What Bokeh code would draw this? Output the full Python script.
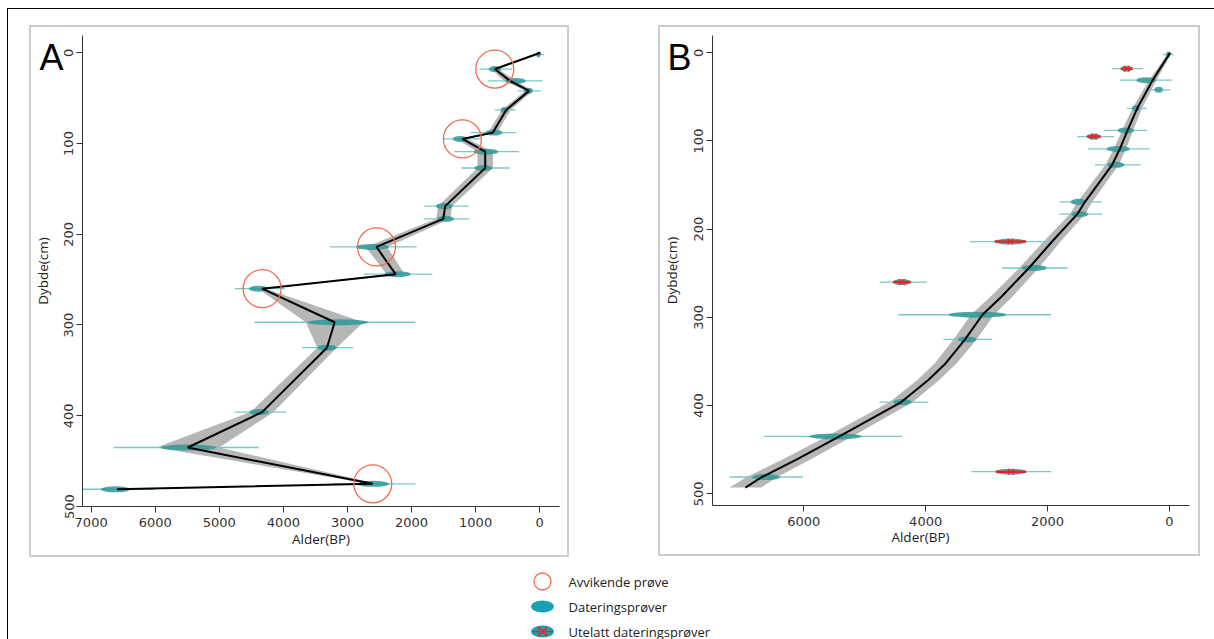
from bokeh.plotting import figure
from bokeh.models import Range1d, FixedTicker, LinearAxis, CustomJSTickFormatter
from bokeh.layouts import column, row
from bokeh.embed import file_html
from bokeh.resources import INLINE
from bokeh.core.properties import value
import json

# ---------------- data ----------------
sample_depth = [2, 18, 31, 42, 63, 88, 95, 109, 127, 169, 183, 214, 244, 260, 297, 325, 396, 435, 475, 481]
sample_age = [20, 700, 380, 175, 550, 715, 1240, 840, 880, 1490, 1470, 2610, 2220, 4390, 3150, 3320, 4380, 5480, 2600, 6620]
sample_old = [110, 940, 810, 345, 700, 1075, 1510, 1335, 1220, 1800, 1810, 3270, 2745, 4755, 4450, 3710, 4760, 6650, 3250, 7220]
sample_young = [-70, 430, -45, -15, 375, 370, 910, 325, 470, 1110, 1100, 1920, 1675, 3980, 1940, 2910, 3955, 4385, 1940, 6015]
sample_outlier = [False, True, False, False, False, False, True, False, False, False, False, True, False, True, False, False, False, False, True, False]

modelA_depth = [0, 18, 31, 42, 63, 88, 95, 109, 127, 169, 183, 214, 244, 260, 297, 325, 396, 435, 475, 481]
modelA_age = [-10, 701, 463, 166, 523, 731, 1207, 850, 850, 1475, 1505, 2547, 2249, 4332, 3200, 3320, 4332, 5493, 2606, 6594]
modelA_spread = [20, 60, 90, 60, 70, 70, 90, 120, 120, 110, 110, 170, 140, 60, 450, 150, 180, 490, 60, 30]

modelB_depth = [0, 31, 63, 88, 109, 127, 169, 183, 214, 244, 276, 297, 325, 352, 371, 396, 435, 461, 481, 493]
modelB_age = [-13, 273, 527, 686, 812, 939, 1384, 1511, 1924, 2305, 2749, 3067, 3353, 3670, 3956, 4400, 5416, 6114, 6687, 6959]
modelB_spread = [30, 60, 80, 90, 100, 110, 120, 125, 140, 160, 180, 190, 190, 180, 180, 190, 210, 230, 250, 260]

age_ticks_A = [7000, 6000, 5000, 4000, 3000, 2000, 1000, 0]
age_ticks_B = [6000, 4000, 2000, 0]
depth_ticks = [0, 100, 200, 300, 400, 500]

x_title = "Alder(BP)"
y_title = "Dybde(cm)"
legend_labels = ["Avvikende prøve", "Dateringsprøver", "Utelatt dateringsprøver"]

# ---------------- styles ----------------
TEAL = "#2f9896"
TEAL_BAR = "#7cc7c7"
BAND = "#a9a9a9"
CORAL = "#f26c50"
RED = "#e8262a"
AXIS = "#333333"


def const_formatter(txt):
    return CustomJSTickFormatter(code="return %s;" % json.dumps(txt))


def make_panel(width, height, xr, yr, borders, xticks, letter, letter_depth,
               letter_standoff, title_label_standoff, margin):
    left, right, top, bottom = borders
    p = figure(width=width, height=height, x_range=Range1d(*xr), y_range=Range1d(*yr),
               min_border_left=left, min_border_right=right, min_border_top=top, min_border_bottom=bottom,
               toolbar_location=None, output_backend="svg", title=None,
               styles={"outline": "2px solid #cccccc"}, margin=margin)
    p.xgrid.visible = False
    p.ygrid.visible = False
    p.outline_line_color = None
    for ax in (p.xaxis[0], p.yaxis[0]):
        ax.axis_line_color = AXIS
        ax.axis_line_width = 1
        ax.major_tick_line_color = AXIS
        ax.major_tick_out = 6
        ax.major_tick_in = 0
        ax.minor_tick_line_color = None
        ax.major_label_text_font = "DejaVu Sans"
        ax.major_label_text_font_size = "13px"
        ax.major_label_text_color = AXIS
        ax.axis_label_text_font = "Open Sans"
        ax.axis_label_text_font_size = "13.5px"
        ax.axis_label_text_font_style = "normal"
        ax.axis_label_text_color = "#222222"
    p.xaxis[0].ticker = FixedTicker(ticks=xticks)
    p.yaxis[0].ticker = FixedTicker(ticks=depth_ticks)
    p.yaxis[0].major_label_orientation = "vertical"
    p.yaxis[0].major_label_standoff = 3
    p.xaxis[0].major_label_standoff = 5
    p.xaxis[0].axis_label_standoff = 0

    # outer left "axis": carries the panel letter (as its single tick label) and the depth title
    p.extra_y_ranges = {"lab": Range1d(*yr)}
    lab = LinearAxis(y_range_name="lab", ticker=FixedTicker(ticks=[letter_depth]), formatter=const_formatter(letter),
                     axis_line_color=None, major_tick_line_color=None, minor_tick_line_color=None,
                     major_tick_out=0, major_tick_in=0, major_label_standoff=letter_standoff,
                     major_label_text_font="Liberation Sans", major_label_text_font_size="36px",
                     major_label_text_line_height=1.0, major_label_text_color="black",
                     axis_label=y_title, axis_label_standoff=title_label_standoff,
                     axis_label_text_font="Open Sans", axis_label_text_font_size="13.5px",
                     axis_label_text_font_style="normal", axis_label_text_color="#222222")
    p.add_layout(lab, "left")
    return p


def draw_samples(p):
    widths = [0.38 * (o - y) for o, y in zip(sample_old, sample_young)]
    p.segment(x0=sample_old, y0=sample_depth, x1=sample_young, y1=sample_depth,
              line_color=TEAL_BAR, line_width=1.3)
    p.ellipse(x=sample_age, y=sample_depth, width=widths, height=6, height_units="screen",
              fill_color=TEAL, fill_alpha=0.85, line_color=None)
    return widths


# ---------------- panel A ----------------
pA = make_panel(536, 528, (7135, -309), (500, -19), (49, 8, 8, 49), age_ticks_A, "A", -16, -2, -16,
                (18, 0, 0, 23))
pA.xaxis[0].axis_label = x_title
pA.harea(y=modelA_depth, x1=[a - s for a, s in zip(modelA_age, modelA_spread)],
         x2=[a + s for a, s in zip(modelA_age, modelA_spread)], fill_color=BAND, fill_alpha=0.85)
draw_samples(pA)
pA.line(modelA_age, modelA_depth, line_color="black", line_width=2)
out_idx = [modelA_depth.index(d) for d, o in zip(sample_depth, sample_outlier) if o]
pA.scatter(x=[modelA_age[i] for i in out_idx], y=[modelA_depth[i] for i in out_idx], marker="circle",
           size=38, fill_color=None, line_color=CORAL, line_width=1.3)

# ---------------- panel B ----------------
xrB = (7499, -331)
pB = make_panel(538, 527, xrB, (513.3, -19.6), (47, 9, 8, 48), age_ticks_B, "B", -16, 0, -17,
                (18, 0, 0, 93))
pB.harea(y=modelB_depth, x1=[a - s for a, s in zip(modelB_age, modelB_spread)],
         x2=[a + s for a, s in zip(modelB_age, modelB_spread)], fill_color=BAND, fill_alpha=0.85)
wB = draw_samples(pB)
pB.line(modelB_age, modelB_depth, line_color="black", line_width=2)
oa = [a for a, o in zip(sample_age, sample_outlier) if o]
od = [d for d, o in zip(sample_depth, sample_outlier) if o]
ow = [w for w, o in zip(wB, sample_outlier) if o]
pB.segment(x0=[a - w / 2 for a, w in zip(oa, ow)], y0=od, x1=[a + w / 2 for a, w in zip(oa, ow)], y1=od,
           line_color=RED, line_width=2.5)
pB.scatter(x=oa, y=od, marker="x", size=8, line_color=RED, line_width=1.3)
# x title of panel B sits left of the frame centre: carried by an extra bottom axis
pB.extra_x_ranges = {"lab": Range1d(*xrB)}
pB.add_layout(LinearAxis(x_range_name="lab", ticker=FixedTicker(ticks=[4085]), formatter=const_formatter(x_title),
                         axis_line_color=None, major_tick_line_color=None, minor_tick_line_color=None,
                         major_tick_out=0, major_tick_in=0, major_label_standoff=-1,
                         major_label_text_font="Open Sans", major_label_text_font_size="13.5px",
                         major_label_text_color="#222222"), "below")

# ---------------- legend ----------------
pL = figure(width=1206, height=80, x_range=Range1d(0, 1206), y_range=Range1d(80, 0),
            min_border=0, toolbar_location=None, output_backend="svg", title=None,
            x_axis_location=None, y_axis_location=None, margin=(4, 0, 0, 0))
pL.xgrid.visible = False
pL.ygrid.visible = False
pL.outline_line_color = None
rows_y = [22, 47, 72]
pL.scatter(x=[534], y=[rows_y[0]], marker="circle", size=17, fill_color=None, line_color=CORAL, line_width=1.3)
pL.ellipse(x=[534, 534], y=rows_y[1:], width=23, height=12, fill_color="#17a2b4", line_color=None)
pL.segment(x0=[524], y0=[rows_y[2]], x1=[544], y1=[rows_y[2]], line_color=RED, line_width=1.5)
pL.scatter(x=[534], y=[rows_y[2]], marker="x", size=13, line_color=RED, line_width=1.5)
pL.text(x=[560] * 3, y=rows_y, text=legend_labels, text_font=value("Open Sans"), text_font_size="13px",
        text_baseline="middle", text_color="#222222")

layout = column(row(pA, pB), pL, margin=(8, 0, 0, 7),
                styles={"border-left": "1px solid #000000", "border-top": "1px solid #000000"})
open("out.html", "w").write(file_html(layout, INLINE))
